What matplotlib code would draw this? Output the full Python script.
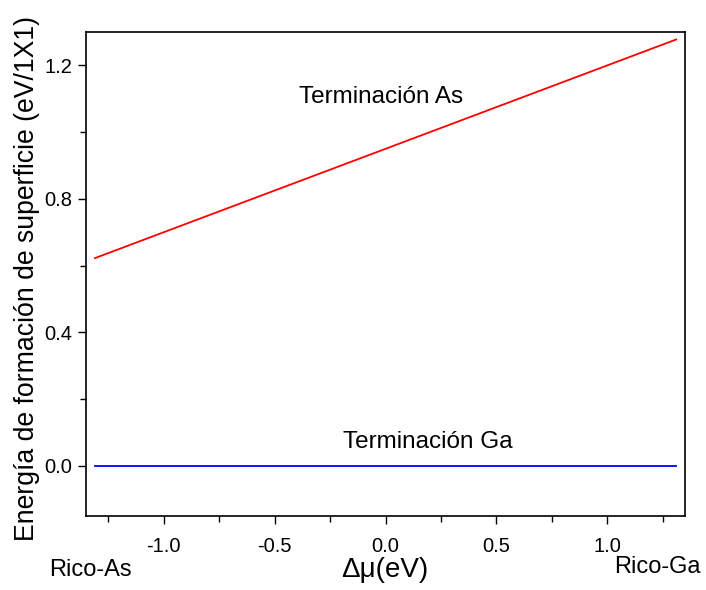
import matplotlib.pyplot as plt
from matplotlib.ticker import MultipleLocator

plt.rcParams.update({
    "font.family": ["Liberation Sans", "DejaVu Sans"],
    "font.size": 11,
    "axes.unicode_minus": False,
})

# data
dmu = [-1.31, 1.31]
e_as = [0.6225, 1.2775]
e_ga = [0.0, 0.0]

fig = plt.figure(figsize=(7.06, 5.90), dpi=100)
ax = fig.add_axes([0.1218, 0.1254, 0.8485, 0.8204])

ax.plot(dmu, e_as, color="#ff0000", lw=1.3)
ax.plot(dmu, e_ga, color="#0000ff", lw=1.3)

ax.set_xlim(-1.35, 1.35)
ax.set_ylim(-0.15, 1.30)
ax.xaxis.set_major_locator(MultipleLocator(0.5))
ax.xaxis.set_minor_locator(MultipleLocator(0.25))
ax.yaxis.set_major_locator(MultipleLocator(0.4))
ax.yaxis.set_minor_locator(MultipleLocator(0.2))
ax.xaxis.set_major_formatter(plt.FuncFormatter(lambda v, p: f"{v:.1f}"))
ax.yaxis.set_major_formatter(plt.FuncFormatter(lambda v, p: f"{v:.1f}"))
ax.tick_params(which="both", direction="out", labelsize=14.5)
ax.tick_params(which="major", length=6, width=1)
ax.tick_params(which="minor", length=4, width=1)
ax.tick_params(axis="x", pad=9)
ax.tick_params(axis="y", pad=4)
for s in ax.spines.values():
    s.set_linewidth(1.2)

ax.set_ylabel("Energía de formación de superficie (eV/1X1)", fontsize=19.2)
ax.yaxis.set_label_coords(-0.076, 0.49)
fig.text(0.545, 0.034, "Δμ(eV)", fontsize=20, ha="center", va="center")
fig.text(0.128, 0.034, "Rico-As", fontsize=17, ha="center", va="center")
fig.text(0.931, 0.039, "Rico-Ga", fontsize=17, ha="center", va="center")

ax.text(-0.018, 1.104, "Terminación As", fontsize=17.5, ha="center", va="center")
ax.text(0.19, 0.072, "Terminación Ga", fontsize=17.5, ha="center", va="center")

fig.savefig("out.png", dpi=100, facecolor="white")
